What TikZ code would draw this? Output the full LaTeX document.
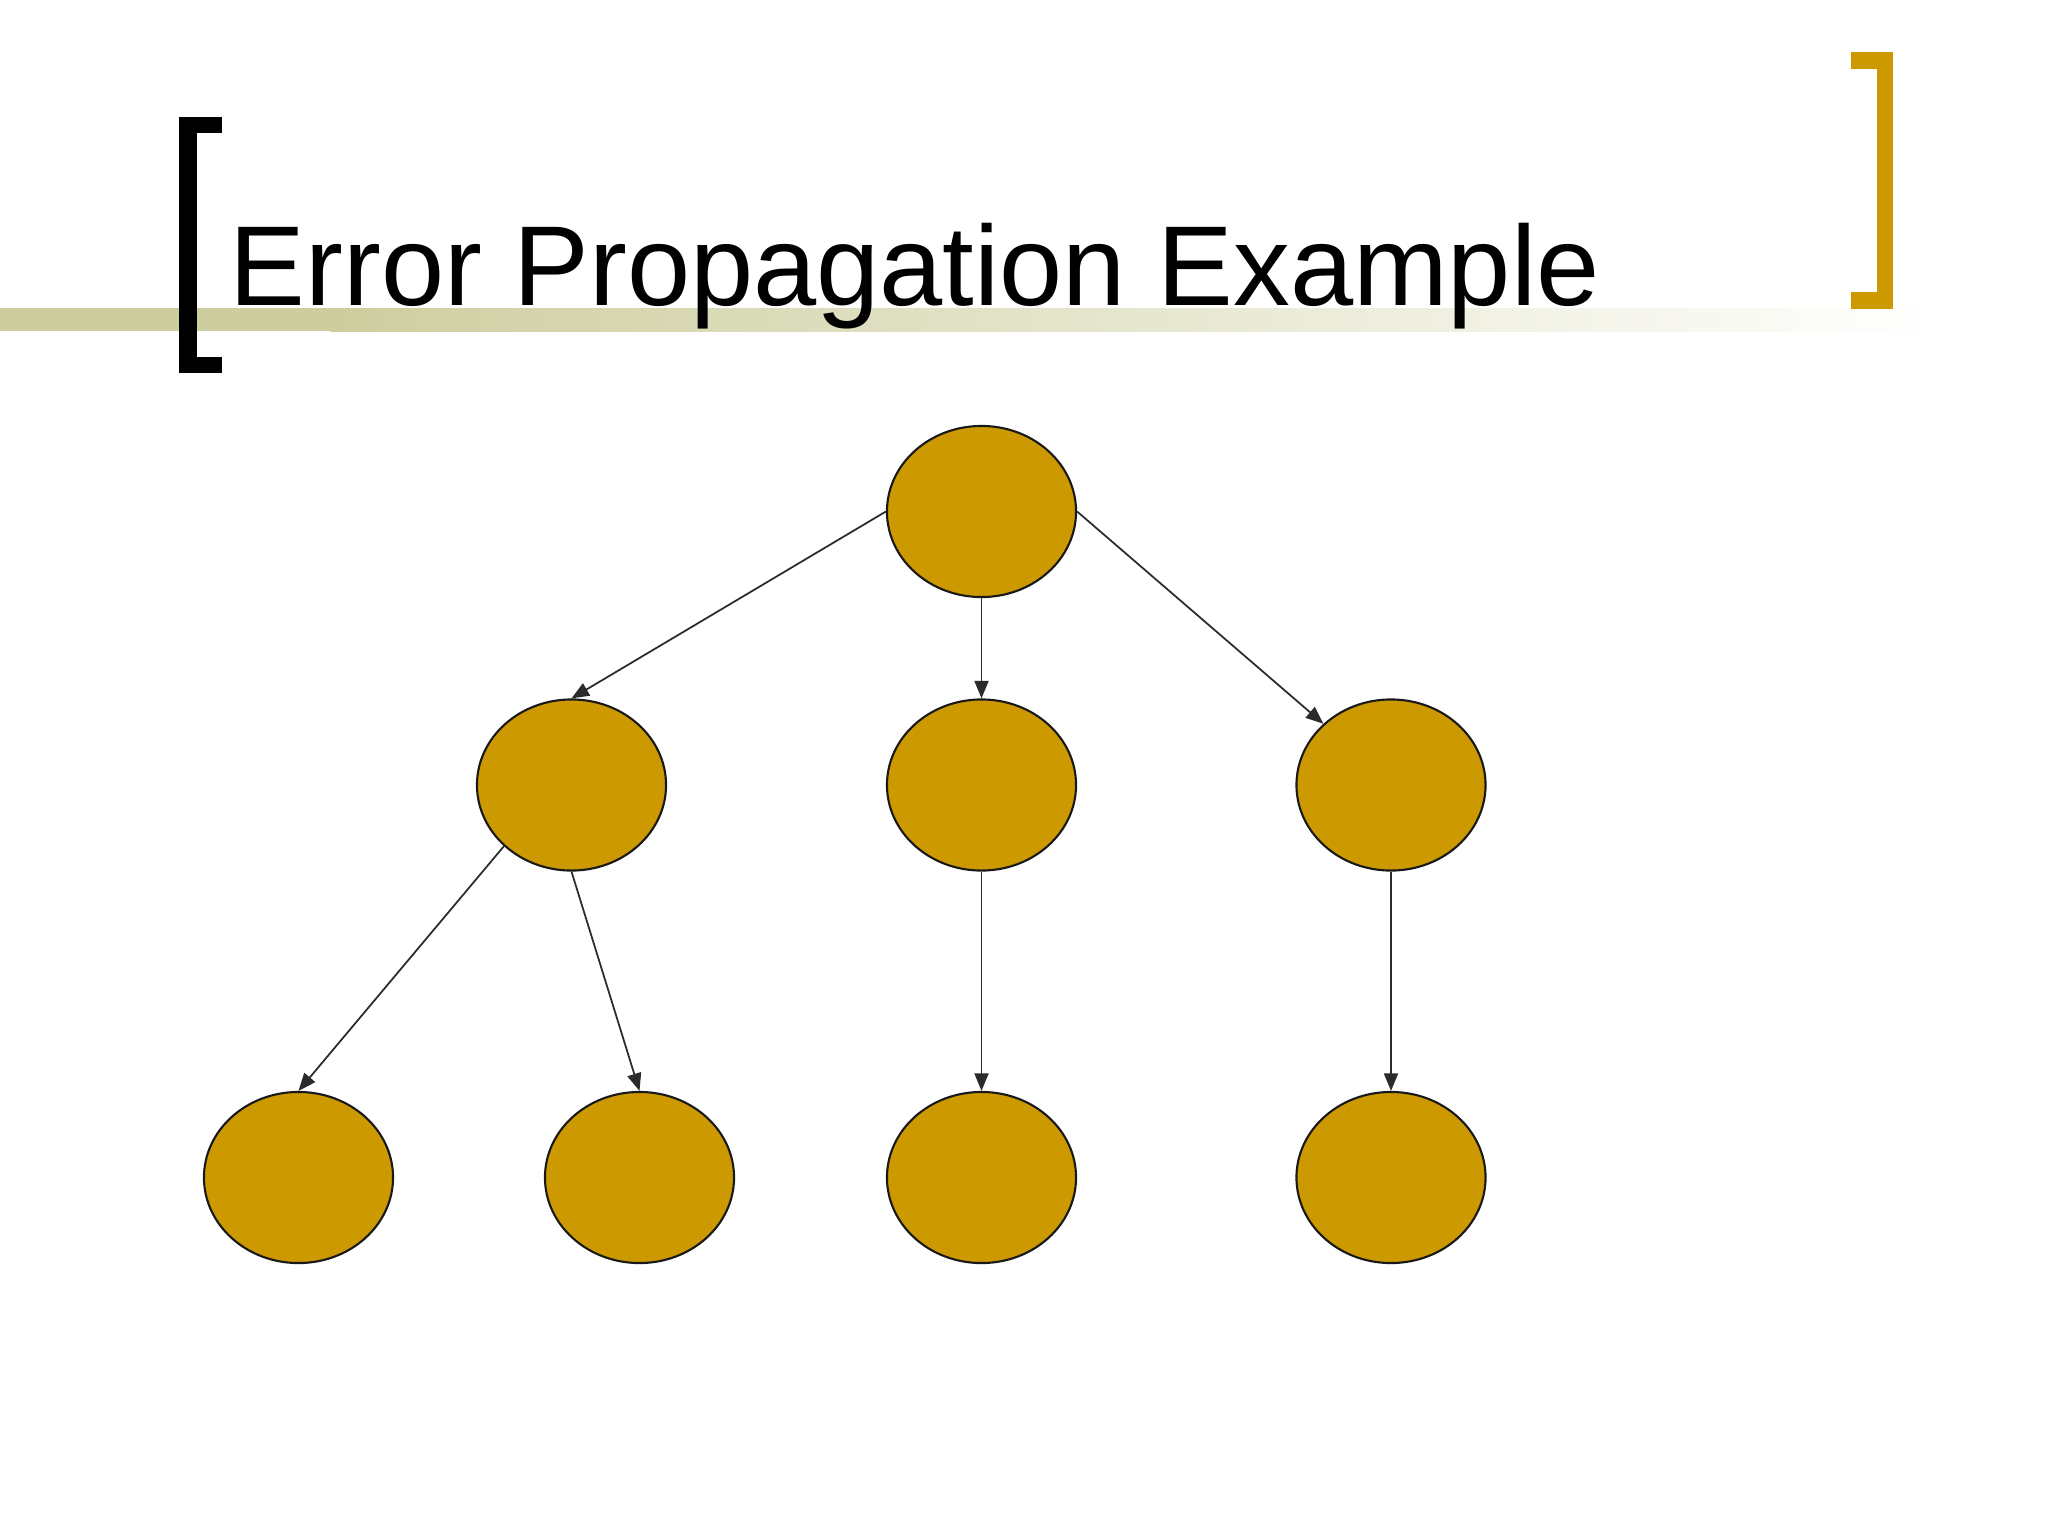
\documentclass[tikz,border=0pt]{standalone}
\usepackage{fontspec}
\setmainfont{Liberation Sans}
\usetikzlibrary{shapes.geometric,arrows.meta}
\definecolor{gold}{HTML}{CC9900}
\definecolor{olivebar}{HTML}{CDCE9F}
\definecolor{edgegray}{HTML}{2B2B2B}
\tikzset{
  ball/.style={ellipse, draw=black!90, line width=0.6pt, fill=gold, minimum width=1.89cm, minimum height=1.71cm, inner sep=0pt},
  link/.style={draw=edgegray, line width=0.5pt, -{Triangle[length=5pt,width=4pt]}}
}
\begin{document}
\begin{tikzpicture}[x=0.01cm,y=-0.01cm]
\useasboundingbox (0,0) rectangle (2048,1536);
% title bar
\fill[olivebar] (0,308) rectangle (330,331);
\shade[left color=olivebar, right color=white] (330,308) rectangle (1935,331);
% brackets
\fill[black] (179,117) rectangle (222,133);
\fill[black] (179,117) rectangle (197,373);
\fill[black] (179,357) rectangle (222,373);
\fill[gold] (1851,52) rectangle (1893,69);
\fill[gold] (1877,52) rectangle (1893,309);
\fill[gold] (1851,292) rectangle (1893,309);
% title
\node[anchor=base west, inner sep=0pt, font=\fontsize{32.3}{39}\selectfont] (title) at (229,305) {Error Propagation Example};
% nodes
\node[ball] (r) at (981.5,511.5) {};
\node[ball] (ml) at (571.5,785) {};
\node[ball] (mc) at (981.5,785) {};
\node[ball] (mr) at (1391,785) {};
\node[ball] (b1) at (298.5,1177.5) {};
\node[ball] (b2) at (639.5,1177.5) {};
\node[ball] (b3) at (981.5,1177.5) {};
\node[ball] (b4) at (1391,1177.5) {};
% edges
\draw[link] (r.west) -- (ml.north);
\draw[link] (r.south) -- (mc.north);
\draw[link] (r.east) -- (mr.north west);
\draw[link] (ml.south west) -- (b1.north);
\draw[link] (ml.south) -- (b2.north);
\draw[link] (mc.south) -- (b3.north);
\draw[link] (mr.south) -- (b4.north);
\end{tikzpicture}
\end{document}
